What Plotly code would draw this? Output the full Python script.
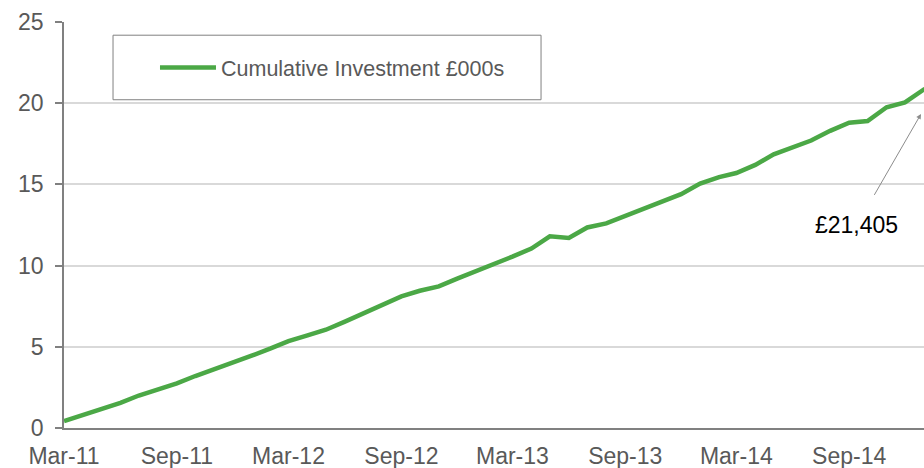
import pandas as pd
import plotly.graph_objects as go

# ---- data ----
months = pd.date_range("2011-03-01", "2015-02-01", freq="MS")
cumulative_investment = [
    0.43, 0.80, 1.15, 1.55, 2.00, 2.35, 2.75, 3.20, 3.60, 4.00,
    4.45, 4.90, 5.35, 5.70, 6.05, 6.55, 7.05, 7.60, 8.10, 8.45,
    8.72, 9.20, 9.65, 10.10, 10.55, 11.05, 11.80, 11.70, 12.35, 12.60,
    13.05, 13.50, 13.95, 14.40, 15.05, 15.45, 15.70, 16.20, 16.85, 17.25,
    17.70, 18.30, 18.80, 18.90, 19.75, 20.05, 20.85, 21.405,
]
series_name = "Cumulative Investment £000s"
final_label = "£21,405"
x_range = ["2011-03-01", "2015-01-01"]
y_range = [0, 25]
y_ticks = [0, 5, 10, 15, 20, 25]

GREEN = "#4BA846"
AXIS = "#808080"
GRID = "#D9D9D9"
TICKTXT = "#595959"
FONT = "Liberation Sans, Arial, Helvetica, sans-serif"

fig = go.Figure()
fig.add_trace(go.Scatter(
    x=months, y=cumulative_investment, mode="lines", name=series_name,
    line=dict(color=GREEN, width=4.5), showlegend=True, hoverinfo="skip",
))

# callout for the final value (its point lies just beyond the visible range)
fig.add_annotation(
    x=0.9965, y=0.7734, xref="paper", yref="paper",
    text=final_label, showarrow=True,
    ax=-64, ay=111, arrowhead=2, arrowsize=1, arrowwidth=1,
    arrowcolor="#8C8C8C", standoff=0, startstandoff=18,
    font=dict(family=FONT, size=23, color="#000000"),
)

# legend frame
fig.add_shape(type="rect", xref="paper", yref="paper",
              x0=0.057, x1=0.5547, y0=0.8085, y1=0.9675,
              line=dict(color=AXIS, width=1), fillcolor="rgba(0,0,0,0)")

fig.update_layout(
    width=924, height=468,
    margin=dict(l=64, r=0, t=22, b=40),
    paper_bgcolor="white", plot_bgcolor="white",
    font=dict(family=FONT, size=23, color=TICKTXT),
    legend=dict(x=0.1058, y=0.888, xanchor="left", yanchor="middle",
                bgcolor="rgba(0,0,0,0)", borderwidth=0,
                font=dict(family=FONT, size=21.5, color=TICKTXT),
                itemwidth=56),
    showlegend=True,
)
fig.update_xaxes(
    type="date", range=x_range, dtick="M6", tick0="2011-03-01",
    tickformat="%b-%y", showgrid=False, showline=True, linecolor=AXIS,
    linewidth=1.5, ticks="", zeroline=False, automargin=False,
    ticklabelstandoff=7,
    tickfont=dict(family=FONT, size=23, color=TICKTXT),
)
fig.update_yaxes(
    range=y_range, tickvals=y_ticks, showgrid=True, gridcolor=GRID,
    gridwidth=1.5, showline=True, linecolor=AXIS, linewidth=1.5,
    ticks="outside", ticklen=7, tickcolor=AXIS, tickwidth=1.5,
    zeroline=False, ticklabelstandoff=7, automargin=False,
    tickfont=dict(family=FONT, size=23, color=TICKTXT),
)

fig.write_html(
    "out.html",
    config={"displayModeBar": False},
    post_script="document.body.style.margin='0';document.body.style.overflow='hidden';",
)
